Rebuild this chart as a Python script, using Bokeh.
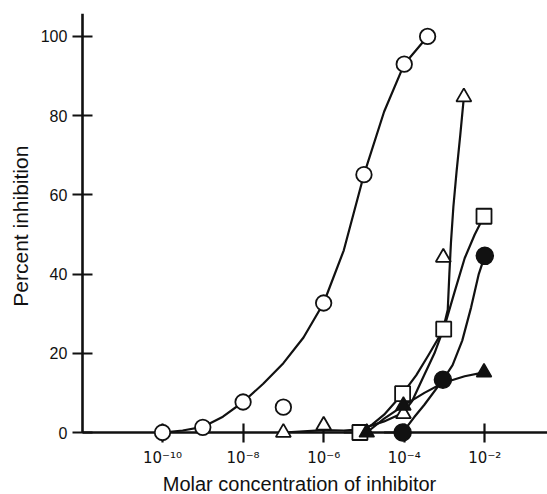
import math
from bokeh.plotting import figure
from bokeh.models import Range1d, FixedTicker, Label
from bokeh.embed import file_html
from bokeh.resources import INLINE

# x values are log10 of the molar concentration
x_ticks = [-10, -8, -6, -4, -2]
x_tick_labels = ["10⁻¹⁰", "10⁻⁸", "10⁻⁶", "10⁻⁴", "10⁻²"]
y_ticks = [0, 20, 40, 60, 80, 100]
x_title = "Molar concentration of inhibitor"
y_title = "Percent inhibition"

# open circles
oc_x = [-10, -9, -8, -7, -6, -5, -4, -3.42]
oc_y = [0, 1.3, 7.7, 6.4, 32.7, 65.1, 93.0, 100.0]
oc_curve_x = [-10, -9.5, -9, -8.5, -8, -7.5, -7, -6.5, -6, -5.5, -5, -4.5, -4, -3.42]
oc_curve_y = [0, 0.5, 1.4, 4.0, 7.7, 12.3, 17.5, 24.0, 32.7, 46.0, 65.1, 81.0, 93.0, 100.0]

# open triangles
ot_x = [-7, -6, -4.02, -3.03, -2.52]
ot_y = [0, 1.8, 4.7, 44.2, 84.7]
ot_curve_x = [-7, -6, -5.5, -5.1, -4.5, -4.02, -3.8, -3.55, -3.25, -3.05, -2.92, -2.88, -2.84, -2.78, -2.70, -2.61, -2.52]
ot_curve_y = [0, 0.6, 0.5, 0.8, 2.8, 5.0, 8.0, 13.5, 20.0, 25.5, 31.0, 40.0, 48.0, 57.0, 66.0, 75.0, 84.7]

# open squares
sq_x = [-5.1, -4.04, -3.02, -2.02]
sq_y = [0, 9.8, 26.1, 54.6]
sq_curve_x = [-5.1, -4.8, -4.5, -4.04, -3.7, -3.4, -3.02, -2.75, -2.5, -2.25, -2.02]
sq_curve_y = [0, 2.0, 4.5, 9.8, 14.5, 19.5, 26.1, 35.5, 44.0, 50.0, 54.6]

# filled circles
fc_x = [-4.04, -3.04, -2.0]
fc_y = [0, 13.3, 44.6]
fc_curve_x = [-4.5, -4.04, -3.75, -3.5, -3.04, -2.8, -2.56, -2.34, -2.15, -2.0]
fc_curve_y = [0, 0, 3.9, 7.0, 13.3, 17.0, 23.2, 31.6, 40.0, 44.6]

# filled triangles
ft_x = [-4.93, -4.02, -2.02]
ft_y = [0, 6.8, 15.2]
ft_curve_x = [-5.5, -4.93, -4.5, -4.02, -3.5, -3.04, -2.5, -2.02]
ft_curve_y = [0, 0, 3.5, 6.8, 10.0, 12.5, 14.2, 15.2]

FONT = "Liberation Sans"
INK = "#111111"
X_LEFT = -11.99      # where the y axis crosses
Y_TOP = 105.8        # top of the y axis

# The frame fills the canvas (apart from a small top margin) so that no
# text or marker outside the axes is clipped; both axes are pinned.
p = figure(width=547, height=494, output_backend="svg", toolbar_location=None,
           title=None,
           x_range=Range1d(-14.021, -0.444), y_range=Range1d(-15.655, Y_TOP),
           min_border_left=0, min_border_right=0, min_border_top=13,
           min_border_bottom=0)
p.grid.visible = False
p.outline_line_color = None
p.background_fill_color = "white"
p.border_fill_color = "white"

# curves
for cx, cy in [(oc_curve_x, oc_curve_y), (ot_curve_x, ot_curve_y),
               (sq_curve_x, sq_curve_y), (fc_curve_x, fc_curve_y),
               (ft_curve_x, ft_curve_y)]:
    p.line(cx, cy, line_color=INK, line_width=2.2, line_join="round")

# markers (drawn above the axis ticks)
mk = dict(level="annotation")
p.scatter(ot_x, ot_y, marker="triangle", size=15, fill_color="white",
          line_color=INK, line_width=1.8, **mk)
p.scatter(sq_x, sq_y, marker="square", size=15, fill_color="white",
          line_color=INK, line_width=1.8, **mk)
p.scatter(ft_x, ft_y, marker="triangle", size=15, fill_color=INK,
          line_color=INK, line_width=1.5, **mk)
p.scatter(fc_x, fc_y, marker="circle", size=17, fill_color=INK,
          line_color=INK, line_width=1.5, **mk)
p.scatter(oc_x, oc_y, marker="circle", size=15.5, fill_color="white",
          line_color=INK, line_width=1.8, **mk)

# x axis pinned at zero
xa = p.xaxis[0]
xa.fixed_location = 0
xa.bounds = (X_LEFT, -0.444)
xa.ticker = FixedTicker(ticks=x_ticks, minor_ticks=[])
xa.major_label_overrides = {t: l for t, l in zip(x_ticks, x_tick_labels)}

# y axis pinned at the left end of the x axis
ya = p.yaxis[0]
ya.fixed_location = X_LEFT
ya.bounds = (0, Y_TOP)
ya.ticker = FixedTicker(ticks=y_ticks, minor_ticks=[])

for ax in (xa, ya):
    ax.axis_line_color = INK
    ax.axis_line_width = 2.6
    ax.major_tick_line_color = INK
    ax.major_tick_line_width = 2.2
    ax.major_tick_in = 10
    ax.major_tick_out = 10
    ax.minor_tick_in = 0
    ax.minor_tick_out = 0
    ax.minor_tick_line_color = None
    ax.major_label_text_font = FONT
    ax.major_label_text_color = INK

xa.major_tick_in = 9
xa.major_label_text_font = "DejaVu Sans"
xa.major_label_text_font_size = "15px"
xa.major_label_standoff = 6
ya.major_label_text_font_size = "16px"
ya.major_label_standoff = 5

# axis titles
p.add_layout(Label(x=-6.6, y=-13.0, x_units="data", y_units="data",
                   text=x_title, text_align="center", text_baseline="middle",
                   text_font=FONT, text_font_size="20px", text_color=INK))
p.add_layout(Label(x=-13.52, y=52.1, x_units="data", y_units="data",
                   angle=math.pi / 2, text=y_title, text_align="center",
                   text_baseline="middle", text_font=FONT,
                   text_font_size="21px", text_color=INK))

open("out.html", "w").write(file_html(p, INLINE))
